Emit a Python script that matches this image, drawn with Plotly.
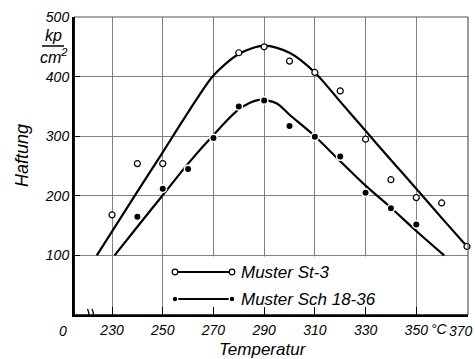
import plotly.graph_objects as go

# ---- data ----
st3_temp = [230, 240, 250, 280, 290, 300, 310, 320, 330, 340, 350, 360, 370]
st3_haft = [168, 254, 254, 440, 450, 426, 407, 376, 295, 227, 197, 188, 115]
sch_temp = [240, 250, 260, 270, 280, 290, 300, 310, 320, 330, 340, 350]
sch_haft = [165, 212, 245, 297, 350, 360, 317, 299, 266, 205, 179, 152]
st3_curve_temp = [224, 240, 250, 260, 270, 280, 290, 300, 310, 320, 330, 340, 350, 360, 370]
st3_curve_haft = [100, 207, 273, 340, 402, 438, 452, 440, 407, 358, 309, 260, 212, 163, 115]
sch_curve_temp = [231, 240, 250, 260, 270, 280, 288, 295, 300, 310, 320, 330, 340, 350, 361]
sch_curve_haft = [100, 148, 201, 254, 302, 345, 361, 355, 336, 300, 258, 217, 180, 141, 100]
x_ticks = [230, 250, 270, 290, 310, 330, 350, 370]
x_tick_text = ["230", "250", "270", "290", "310", "330", "350", "370"]
y_ticks = [100, 200, 300, 400, 500]
y_tick_text = ["100", "200", "300", "400", "500"]
series_names = ["Muster St-3", "Muster Sch 18-36"]

W, H = 475, 359
L, R, T, B = 74, 7, 17, 44
X0, X1 = 215, 370.4
FONT = "Liberation Sans, Arial, sans-serif"
GRID = "#808080"
PW, PH = W - L - R, H - T - B

def px2x(px):
    return X0 + (px - L) / PW * (X1 - X0)

def py2y(py):
    return (H - B - py) / PH * 500

def pxp(px):
    return (px - L) / PW

def pyp(py):
    return (H - B - py) / PH

def ifont(size):
    return dict(size=size, family=FONT, style="italic", color="black")

fig = go.Figure()

# fitted curves
fig.add_trace(go.Scatter(x=st3_curve_temp, y=st3_curve_haft, mode="lines",
                         line=dict(color="black", width=2.2, shape="spline", smoothing=0.8),
                         hoverinfo="skip", showlegend=False))
fig.add_trace(go.Scatter(x=sch_curve_temp, y=sch_curve_haft, mode="lines",
                         line=dict(color="black", width=2.2, shape="spline", smoothing=0.8),
                         hoverinfo="skip", showlegend=False))
# measured points
fig.add_trace(go.Scatter(x=st3_temp, y=st3_haft, mode="markers", name=series_names[0],
                         marker=dict(symbol="circle", size=6, color="white",
                                     line=dict(color="black", width=1.2)),
                         cliponaxis=False, showlegend=False))
fig.add_trace(go.Scatter(x=sch_temp, y=sch_haft, mode="markers", name=series_names[1],
                         marker=dict(symbol="circle", size=7.5, color="black",
                                     line=dict(color="white", width=1.5)),
                         cliponaxis=False, showlegend=False))

shapes = []
# white box behind the legend (hides grid lines)
shapes.append(dict(type="rect", xref="x", yref="y", x0=251, x1=349, y0=1, y1=98,
                   fillcolor="white", line=dict(width=0), layer="between"))
# frame: right and top grey, left and bottom black
shapes.append(dict(type="line", xref="paper", yref="paper", x0=1, x1=1, y0=0, y1=1,
                   line=dict(color="#555", width=1.2)))
shapes.append(dict(type="line", xref="paper", yref="paper", x0=0, x1=1, y0=1, y1=1,
                   line=dict(color="#555", width=1.2)))
shapes.append(dict(type="line", xref="paper", yref="paper", x0=0, x1=0, y0=0, y1=1,
                   line=dict(color="black", width=1.8)))
shapes.append(dict(type="line", xref="paper", yref="paper", x0=0, x1=1, y0=0, y1=0,
                   line=dict(color="black", width=1.5)))

# custom legend
rows = [(py2y(272), "open"), (py2y(299), "filled")]
lx0, lx1 = px2x(175), px2x(232)
annotations = []
for (yy, kind), name in zip(rows, series_names):
    shapes.append(dict(type="line", xref="x", yref="y", x0=lx0, x1=lx1, y0=yy, y1=yy,
                       line=dict(color="black", width=2)))
    for cx in (lx0, lx1):
        r = 2.8
        shapes.append(dict(type="circle", xref="x", yref="y", xsizemode="pixel", ysizemode="pixel",
                           xanchor=cx, yanchor=yy, x0=-r, x1=r, y0=-r, y1=r,
                           fillcolor="white" if kind == "open" else "black",
                           line=dict(color="black" if kind == "open" else "white", width=1.2)))
    annotations.append(dict(x=px2x(239), y=yy, xref="x", yref="y", text=name, showarrow=False,
                            xanchor="left", yanchor="middle", font=ifont(17)))

# axis break marks
for bx in (px2x(88.5), px2x(93)):
    d = 6 * 500 / PH
    dx = 1.0 * (X1 - X0) / PW
    shapes.append(dict(type="path", xref="x", yref="y",
                       path=f"M {bx-dx},{-d} Q {bx+2*dx},0 {bx-dx},{d}",
                       line=dict(color="black", width=1.3)))

def note(px, py, text, size, angle=0):
    return dict(x=pxp(px), y=pyp(py), xref="paper", yref="paper", text=text,
                showarrow=False, xanchor="center", yanchor="middle",
                textangle=angle, font=ifont(size))

# unit fraction kp / cm2
annotations.append(note(53, 36, "kp", 16))
annotations.append(note(54, 56, "cm<sup>2</sup>", 16))
shapes.append(dict(type="line", xref="paper", yref="paper", x0=pxp(42), x1=pxp(64),
                   y0=pyp(46), y1=pyp(46), line=dict(color="black", width=1.5)))

# origin "0", degree sign, last x label (kept inside the page)
annotations.append(note(63, 331, "0", 14))
annotations.append(note(439, 329, "°C", 14))
annotations.append(note(461, 331, x_tick_text[-1], 14))
# axis titles
annotations.append(note(22, 156, "Haftung", 18, angle=-90))
annotations.append(note(263, 349, "Temperatur", 17))

fig.update_layout(
    width=W, height=H,
    margin=dict(l=L, r=R, t=T, b=B, autoexpand=False),
    paper_bgcolor="white", plot_bgcolor="white",
    font=dict(family=FONT, color="black", style="italic"),
    shapes=shapes, annotations=annotations,
    showlegend=False,
)
fig.update_xaxes(range=[X0, X1], tickvals=x_ticks[:-1], ticktext=x_tick_text[:-1], automargin=False,
                 showgrid=True, gridcolor=GRID, gridwidth=1,
                 showline=True, linecolor="black", linewidth=1.5, mirror=False,
                 ticks="inside", ticklen=8, tickcolor="black", tickwidth=1.2,
                 tickfont=ifont(14), ticklabelstandoff=1, zeroline=False, fixedrange=True)
fig.update_yaxes(range=[0, 500], tickvals=y_ticks, ticktext=y_tick_text, automargin=False,
                 showgrid=True, gridcolor=GRID, gridwidth=1,
                 showline=True, linecolor="black", linewidth=2,
                 ticks="inside", ticklen=6, tickcolor="black", tickwidth=1.2,
                 tickfont=ifont(14), ticklabelstandoff=0, zeroline=False, fixedrange=True)

fig.write_html("out.html", config={"displayModeBar": False},
               post_script="document.body.style.margin='0';document.body.style.padding='0';"
                           "document.documentElement.style.overflow='hidden';")
